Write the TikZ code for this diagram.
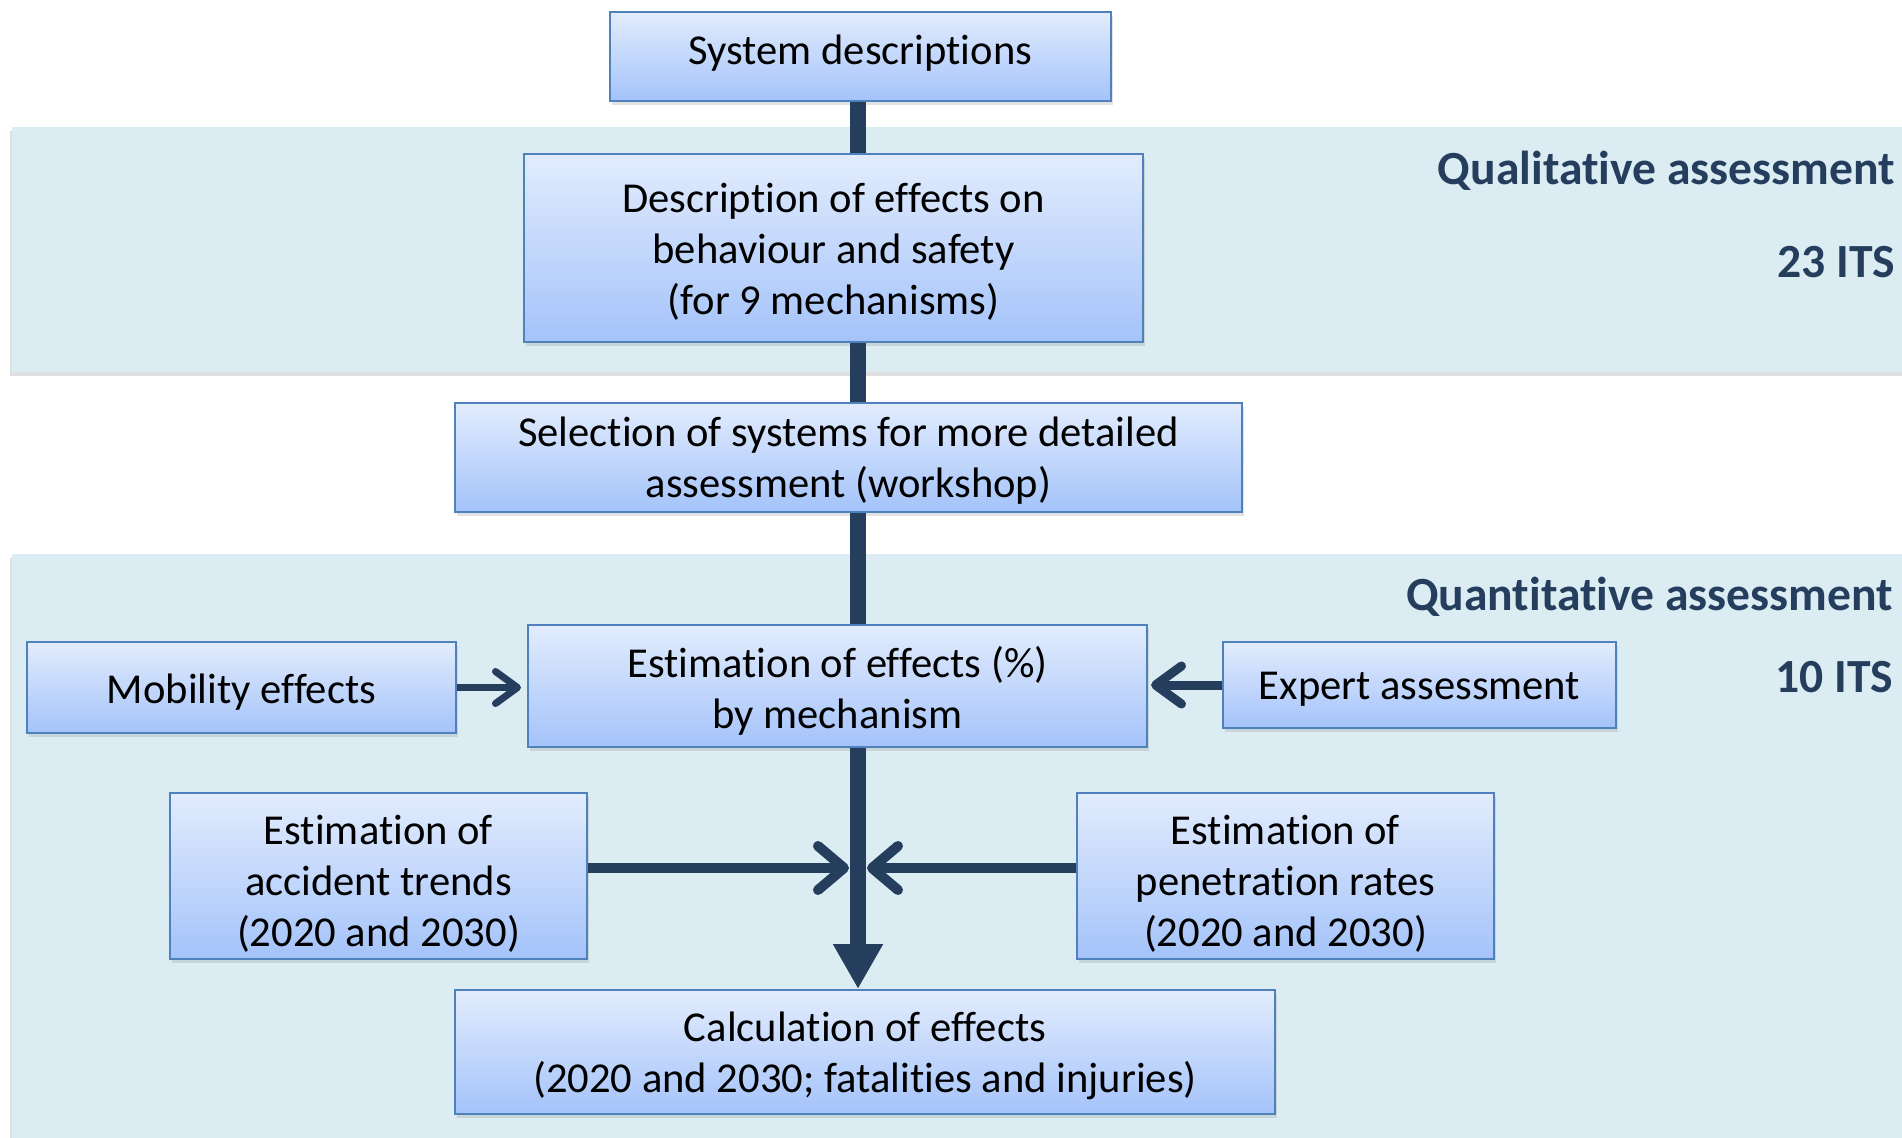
\documentclass[tikz,border=0pt]{standalone}
\usepackage{fontspec}
\setmainfont{Carlito}[Ligatures=NoCommon]
\usetikzlibrary{arrows.meta,shadows}

\definecolor{bandfill}{RGB}{219,236,242}
\definecolor{boxtop}{RGB}{226,236,253}
\definecolor{boxbot}{RGB}{164,195,250}
\definecolor{boxline}{RGB}{79,129,189}
\definecolor{navy}{RGB}{37,62,94}

\tikzset{
  stepbox/.style={draw=boxline, line width=2pt, top color=boxtop, bottom color=boxbot,
    inner sep=0pt, drop shadow={shadow xshift=1.5pt, shadow yshift=-4pt, opacity=0.22}},
  steptext/.style={inner sep=0pt, align=center, font=\fontsize{42.6}{51}\selectfont},
  band/.style={fill=bandfill,
    drop shadow={shadow xshift=-2pt, shadow yshift=-4pt, opacity=0.25}},
  bandtitle/.style={text=navy, font=\fontsize{47.6}{56}\selectfont\bfseries,
    inner sep=0pt, anchor=base east},
  spine/.style={draw=navy, line width=16pt},
  feed/.style={draw=navy, line width=10pt,
    -{Straight Barb[length=26pt,width=44pt,round]}}
}

\begin{document}
\begin{tikzpicture}[x=1pt,y=-1pt]
  \useasboundingbox (0,0) rectangle (1902,1137);

  % assessment bands
  \path[band] (12,127) rectangle (1912,372);
  \path[band] (12,554) rectangle (1912,1160);

  \node[bandtitle] (qual)  at (1895,184) {Qualitative assessment};
  \node[bandtitle] (qits)  at (1895,277) {23 ITS};
  \node[bandtitle] (quant) at (1893,610) {Quantitative assessment};
  \node[bandtitle] (nits)  at (1893,692) {10 ITS};

  % process steps: boxes
  \node[stepbox, minimum width=501pt, minimum height=89pt]  (sys)  at (860.5,56.5) {};
  \node[stepbox, minimum width=619pt, minimum height=188pt] (desc) at (833.5,248) {};
  \node[stepbox, minimum width=787pt, minimum height=109pt] (sel)  at (848.5,457.5) {};
  \node[stepbox, minimum width=619pt, minimum height=122pt] (est)  at (837.5,686) {};
  \node[stepbox, minimum width=429pt, minimum height=91pt]  (mob)  at (241.5,687.5) {};
  \node[stepbox, minimum width=393pt, minimum height=86pt]  (exp)  at (1419.5,685) {};
  \node[stepbox, minimum width=417pt, minimum height=166pt] (acc)  at (378.5,876) {};
  \node[stepbox, minimum width=417pt, minimum height=166pt] (pen)  at (1285.5,876) {};
  \node[stepbox, minimum width=820pt, minimum height=124pt] (calc) at (865,1052) {};

  % process steps: texts
  \node[steptext] (sys-t)  at ([yshift=3pt]sys)    {System descriptions};
  \node[steptext] (desc-t) at ([yshift=-3.5pt]desc) {Description of effects on\\behaviour and safety\\(for 9 mechanisms)};
  \node[steptext] (sel-t)  at ([yshift=-3.5pt]sel)  {Selection of systems for more detailed\\assessment (workshop)};
  \node[steptext] (est-t)  at ([yshift=-5pt]est)    {Estimation of effects (\%)\\by mechanism};
  \node[steptext] (mob-t)  at ([yshift=-4.5pt]mob)  {Mobility effects};
  \node[steptext] (exp-t)  at ([yshift=-4.5pt]exp)  {Expert assessment};
  \node[steptext] (acc-t)  at ([yshift=-8pt]acc)    {Estimation of\\accident trends\\(2020 and 2030)};
  \node[steptext] (pen-t)  at ([yshift=-8pt]pen)    {Estimation of\\penetration rates\\(2020 and 2030)};
  \node[steptext] (calc-t) at ([yshift=-3.5pt]calc) {Calculation of effects\\(2020 and 2030; fatalities and injuries)};

  % main flow
  \coordinate (sp) at (858,0);
  \draw[spine] (sys.south -| sp) -- (desc.north -| sp);
  \draw[spine] (desc.south -| sp) -- (sel.north -| sp);
  \draw[spine] (sel.south -| sp) -- (est.north -| sp);
  \draw[spine, -{Triangle[length=45pt,width=47pt]}] (est.south -| sp) -- (calc.north -| sp);

  % inputs joining the flow
  \coordinate (jl) at (849,868);
  \coordinate (jr) at (867,868);
  \draw[feed] (acc.east |- jl) -- (jl);
  \draw[feed] (pen.west |- jr) -- (jr);
  \draw[feed, line width=7pt, -{Straight Barb[length=22pt,width=32pt,round]}, shorten >=6pt]
    (mob.east) -- (mob.east -| est.west);
  \draw[feed, line width=9pt, -{Straight Barb[length=26pt,width=38pt,round]}, shorten >=3pt]
    (exp.west) -- (exp.west -| est.east);
\end{tikzpicture}
\end{document}
